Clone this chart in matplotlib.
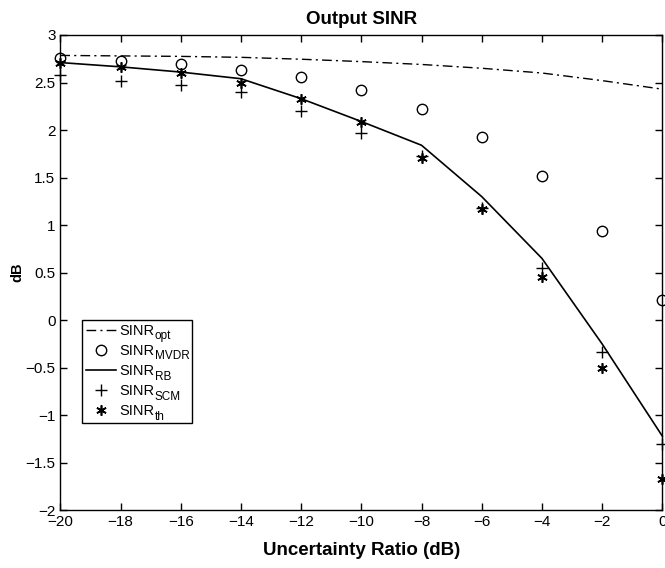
import matplotlib
matplotlib.use("Agg")
import matplotlib.pyplot as plt

plt.rcParams['font.family'] = ['Liberation Sans', 'DejaVu Sans']

x = [-20, -18, -16, -14, -12, -10, -8, -6, -4, -2, 0]
sinr_opt = [2.785, 2.78, 2.775, 2.765, 2.745, 2.72, 2.69, 2.65, 2.60, 2.52, 2.43]
sinr_mvdr = [2.755, 2.73, 2.69, 2.63, 2.56, 2.42, 2.225, 1.93, 1.52, 0.94, 0.215]
sinr_rb = [2.71, 2.665, 2.61, 2.54, 2.33, 2.09, 1.84, 1.30, 0.65, -0.25, -1.22]
sinr_scm = [2.58, 2.52, 2.47, 2.40, 2.20, 1.97, 1.73, 1.18, 0.55, -0.33, -1.30]
sinr_th = [2.71, 2.66, 2.60, 2.49, 2.33, 2.08, 1.71, 1.17, 0.45, -0.50, -1.67]

legend_main = 'SINR'
legend_subs = ['opt', 'MVDR', 'RB', 'SCM', 'th']

xticks = [-20, -18, -16, -14, -12, -10, -8, -6, -4, -2, 0]
yticks = [-2, -1.5, -1, -0.5, 0, 0.5, 1, 1.5, 2, 2.5, 3]

fig = plt.figure(figsize=(6.65, 5.68), dpi=100)
ax = fig.add_axes([0.0907, 0.1016, 0.9053, 0.8368])

h1, = ax.plot(x, sinr_opt, color='black', lw=1.0, linestyle=(0, (7, 3, 1.5, 3)),
              clip_on=False)
h2, = ax.plot(x, sinr_mvdr, linestyle='none', marker='o', mfc='none', mec='black',
              ms=7.5, mew=1.0, clip_on=False)
h3, = ax.plot(x, sinr_rb, color='black', lw=1.2, clip_on=False)
h4, = ax.plot(x, sinr_scm, linestyle='none', marker='+', color='black', ms=8, mew=1.0,
              clip_on=False)
h5, = ax.plot(x, sinr_th, linestyle='none', marker=(6, 2, 0), color='black', ms=7.5,
              mew=1.2, clip_on=False)

ax.set_xlim(-20, 0)
ax.set_ylim(-2, 3)
ax.set_xticks(xticks)
ax.set_xticklabels([('\u2212' + str(abs(v))) if v < 0 else str(v) for v in xticks])
ax.set_yticks(yticks)
ax.set_yticklabels([('\u2212' + ('%g' % abs(v))) if v < 0 else ('%g' % v) for v in yticks])
ax.tick_params(direction='in', top=True, right=True, labelsize=11, length=5, width=1)
for s in ax.spines.values():
    s.set_linewidth(1.0)

ax.set_title('Output SINR', fontsize=13.5, fontweight='bold', pad=8)
ax.set_xlabel('Uncertainty Ratio (dB)', fontsize=13.5, fontweight='bold', labelpad=9)
ax.set_ylabel('dB', fontsize=10.5, fontweight='bold')
ax.yaxis.set_label_coords(-0.060, 0.5)

# legend box spans ~82..192 px horizontally, bottom at ~423 px
ax_w_px = 0.9053 * 665
leg_w = 110 / ax_w_px
leg = ax.legend([h1, h2, h3, h4, h5], [legend_main] * 5,
                loc='lower left', bbox_to_anchor=(0.036, 0.184, leg_w, 0.2),
                mode='expand', fontsize=10.5,
                frameon=True, fancybox=False, edgecolor='black', framealpha=1,
                handlelength=2.0, handletextpad=0.25, labelspacing=0.42,
                borderpad=0.3, borderaxespad=0)
leg.get_frame().set_linewidth(1.0)

for t, sub in zip(leg.get_texts(), legend_subs):
    ax.annotate(sub, xy=(1, 0), xycoords=t, xytext=(0.2, -1.0),
                textcoords='offset points', ha='left', va='baseline',
                fontsize=8.5, zorder=6, annotation_clip=False)

fig.savefig('out.png', dpi=100)
